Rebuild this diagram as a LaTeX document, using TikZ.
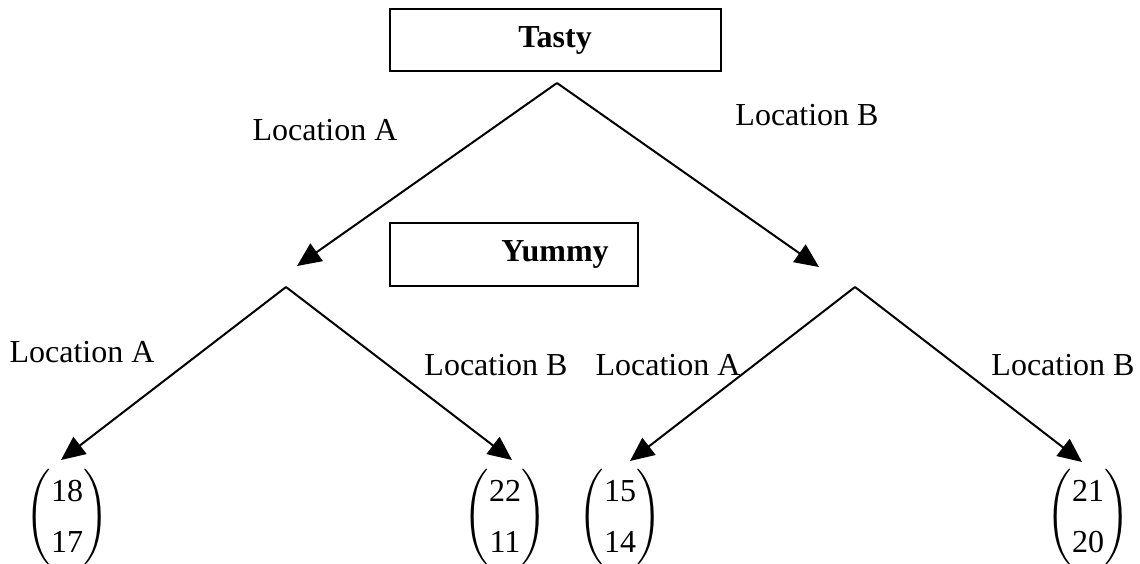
\documentclass[tikz,border=0pt,12pt]{standalone}
\usepackage{amsmath}
\usepackage{fontspec}
\setmainfont{Liberation Serif}
\usetikzlibrary{arrows.meta}
\newcommand{\payoff}[2]{$\renewcommand\arraystretch{1.3}\begin{pmatrix}\text{#1}\\\text{#2}\end{pmatrix}$}
\tikzset{
  player/.style={rectangle,draw=black,line width=1pt,inner sep=0pt},
  pname/.style={font=\bfseries},
  move/.style={-{Triangle[length=9pt,width=8pt]},line width=0.75pt,black},
  loc/.style={inner sep=0pt},
  pay/.style={inner sep=0pt},
}
\begin{document}
\begin{tikzpicture}[x=0.375pt,y=-0.375pt]
  \useasboundingbox (0,0) rectangle (1140,563);
  % players
  \node[player,minimum width=124.1pt,minimum height=23.3pt](tbox) at (555.5,40){};
  \node[pname](tasty) at (555,40){Tasty};
  \node[player,minimum width=93pt,minimum height=23.6pt](ybox) at (514,254.5){};
  \node[pname](yummy) at (555,254.5){Yummy};
  % decision points and arrow ends
  \coordinate (r) at (557,83);
  \coordinate (a) at (286,287); \coordinate (b) at (855,287);
  \coordinate (ra) at (297,266); \coordinate (rb) at (819,267);
  \coordinate (aa) at (61,460); \coordinate (ab) at (512,460);
  \coordinate (ba) at (630,461); \coordinate (bb) at (1082,462);
  \draw[move] (r)--(ra); \draw[move] (r)--(rb);
  \draw[move] (a)--(aa); \draw[move] (a)--(ab);
  \draw[move] (b)--(ba); \draw[move] (b)--(bb);
  % labels
  \node[loc](l1) at (325,130){Location A};
  \node[loc](l2) at (807,115){Location B};
  \node[loc](l3) at (82,352){Location A};
  \node[loc](l4) at (496,365){Location B};
  \node[loc](l5) at (668,365){Location A};
  \node[loc](l6) at (1063,365){Location B};
  % payoffs
  \node[pay](p1) at (67,517){\payoff{18}{17}};
  \node[pay](p2) at (505,517){\payoff{22}{11}};
  \node[pay](p3) at (620,517){\payoff{15}{14}};
  \node[pay](p4) at (1088,517){\payoff{21}{20}};
\end{tikzpicture}
\end{document}
